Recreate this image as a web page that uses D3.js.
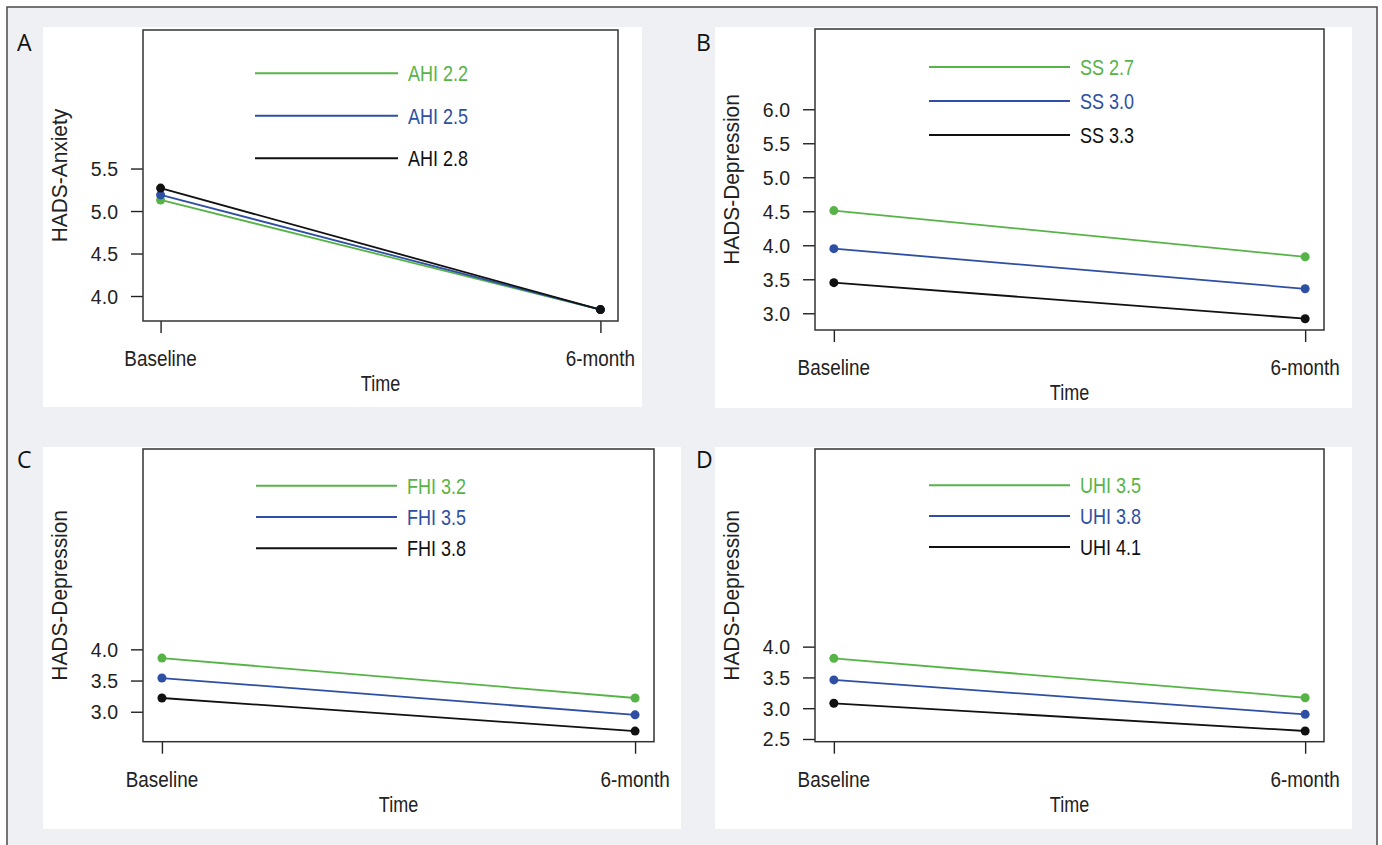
<!DOCTYPE html>
<html><head><meta charset="utf-8">
<script src="https://cdn.jsdelivr.net/npm/d3@7"></script>
<style>
html,body{margin:0;padding:0;background:#fff;}
svg{display:block;}
</style></head>
<body>
<svg id="chart" width="1382" height="845"></svg>
<script>
// ---- data ----
const timeLabels = ["Baseline", "6-month"];
const seriesColors = ["#56b447", "#2e4fa3", "#111111"];
const textColors = ["#56b447", "#2e4fa3", "#111111"];

const panelLetters = ["A", "B", "C", "D"];
const yTitles = ["HADS-Anxiety", "HADS-Depression", "HADS-Depression", "HADS-Depression"];

const legendA = ["AHI 2.2", "AHI 2.5", "AHI 2.8"];
const legendB = ["SS 2.7", "SS 3.0", "SS 3.3"];
const legendC = ["FHI 3.2", "FHI 3.5", "FHI 3.8"];
const legendD = ["UHI 3.5", "UHI 3.8", "UHI 4.1"];

const valuesA = [[5.13, 3.84], [5.19, 3.84], [5.27, 3.84]];
const valuesB = [[4.51, 3.83], [3.95, 3.36], [3.45, 2.92]];
const valuesC = [[3.86, 3.22], [3.54, 2.95], [3.22, 2.69]];
const valuesD = [[3.81, 3.17], [3.46, 2.90], [3.08, 2.63]];

const ticksA = [4.0, 4.5, 5.0, 5.5];
const ticksB = [3.0, 3.5, 4.0, 4.5, 5.0, 5.5, 6.0];
const ticksC = [3.0, 3.5, 4.0];
const ticksD = [2.5, 3.0, 3.5, 4.0];

const domainA = [3.706, 7.13];
const domainB = [2.754, 7.18];
const domainC = [2.52, 7.21];
const domainD = [2.456, 7.21];

const legendYValues = [6.62, 6.12, 5.62];

// ---- layout ----
const svg = d3.select("#chart");
svg.append("rect").attr("x", 7).attr("y", 7).attr("width", 1370).attr("height", 850)
  .attr("fill", "#eef0f3").attr("stroke", "#4a4a4a").attr("stroke-width", 1.5);

const panels = [
  {white: [43, 27, 642, 407], box: [143, 30, 618, 321], letter: [17, 51], legendX: [255, 398],
   values: valuesA, legend: legendA, ticks: ticksA, domain: domainA},
  {white: [715, 27, 1352, 408], box: [815, 29, 1324, 330], letter: [696, 51], legendX: [929, 1070],
   values: valuesB, legend: legendB, ticks: ticksB, domain: domainB},
  {white: [43, 447, 681, 829], box: [143, 449, 654, 741.7], letter: [17, 468], legendX: [256, 397],
   values: valuesC, legend: legendC, ticks: ticksC, domain: domainC},
  {white: [715, 447, 1352, 829], box: [815, 449, 1324, 741.7], letter: [696, 468], legendX: [929, 1070],
   values: valuesD, legend: legendD, ticks: ticksD, domain: domainD}
];

const FONT = "'Liberation Sans', Arial, sans-serif";

function ctext(g, x, y, str, opts) {
  const sx = opts.sx || 0.87;
  const gg = g.append("g").attr("transform", `translate(${x},${y})${opts.rot ? " rotate(" + opts.rot + ")" : ""}`);
  return gg.append("text").attr("transform", `scale(${sx},1)`)
    .attr("text-anchor", opts.anchor || "middle")
    .attr("dominant-baseline", opts.baseline || "alphabetic")
    .attr("font-family", FONT).attr("font-size", opts.size || 21)
    .attr("fill", opts.fill || "#222").text(str);
}

panels.forEach((p, i) => {
  const g = svg.append("g");
  const [wx0, wy0, wx1, wy1] = p.white;
  g.append("rect").attr("x", wx0).attr("y", wy0).attr("width", wx1 - wx0).attr("height", wy1 - wy0).attr("fill", "#fff");

  const [x0, y0, x1, y1] = p.box;
  const x = d3.scalePoint().domain(timeLabels).range([x0, x1]).padding(0.04);
  const y = d3.scaleLinear().domain(p.domain).range([y1, y0]);

  // panel letter
  g.append("text").attr("x", p.letter[0]).attr("y", p.letter[1])
    .attr("font-family", "'Open Sans', 'Noto Sans', sans-serif").attr("font-size", 23)
    .attr("fill", "#111").text(panelLetters[i]);

  // y axis
  const yAxis = g.append("g").attr("transform", `translate(${x0},0)`)
    .call(d3.axisLeft(y).tickValues(p.ticks).tickFormat(d3.format(".1f")).tickSize(12).tickPadding(0));
  yAxis.select(".domain").remove();
  yAxis.selectAll(".tick line").attr("stroke", "#222").attr("stroke-width", 1.4);
  yAxis.selectAll(".tick text").remove();
  p.ticks.forEach(t => ctext(g, x0 - 25, y(t) + 7.5, d3.format(".1f")(t), {size: 21, sx: 0.93, anchor: "end"}));

  // x axis
  const xAxis = g.append("g").attr("transform", `translate(0,${y1})`)
    .call(d3.axisBottom(x).tickSize(12).tickFormat(""));
  xAxis.select(".domain").remove();
  xAxis.selectAll(".tick line").attr("stroke", "#222").attr("stroke-width", 1.4);
  timeLabels.forEach(t => ctext(g, x(t), y1 + 45, t, {size: 22.5, sx: 0.84}));

  // axis titles
  ctext(g, (x0 + x1) / 2, y1 + 70, "Time", {size: 22.5, sx: 0.8});
  ctext(g, x0 - 76, (y0 + y1) / 2, yTitles[i], {size: 22, sx: 0.95, rot: -90});

  // box
  g.append("rect").attr("x", x0).attr("y", y0).attr("width", x1 - x0).attr("height", y1 - y0)
    .attr("fill", "none").attr("stroke", "#333").attr("stroke-width", 1.5);

  // lines & points
  const line = d3.line().x((d, j) => x(timeLabels[j])).y(d => y(d));
  p.values.forEach((vals, k) => {
    g.append("path").datum(vals).attr("d", line).attr("fill", "none")
      .attr("stroke", seriesColors[k]).attr("stroke-width", 1.8);
  });
  p.values.forEach((vals, k) => {
    g.selectAll(null).data(vals).enter().append("circle")
      .attr("cx", (d, j) => x(timeLabels[j])).attr("cy", d => y(d)).attr("r", 4.5)
      .attr("fill", seriesColors[k]);
  });

  // legend
  p.legend.forEach((lab, k) => {
    const ly = y(legendYValues[k]);
    g.append("line").attr("x1", p.legendX[0]).attr("x2", p.legendX[1]).attr("y1", ly).attr("y2", ly)
      .attr("stroke", seriesColors[k]).attr("stroke-width", 2);
    ctext(g, p.legendX[1] + 10, ly + 8, lab, {size: 22.5, sx: 0.8, anchor: "start", fill: textColors[k]});
  });
});
</script>
</body></html>
